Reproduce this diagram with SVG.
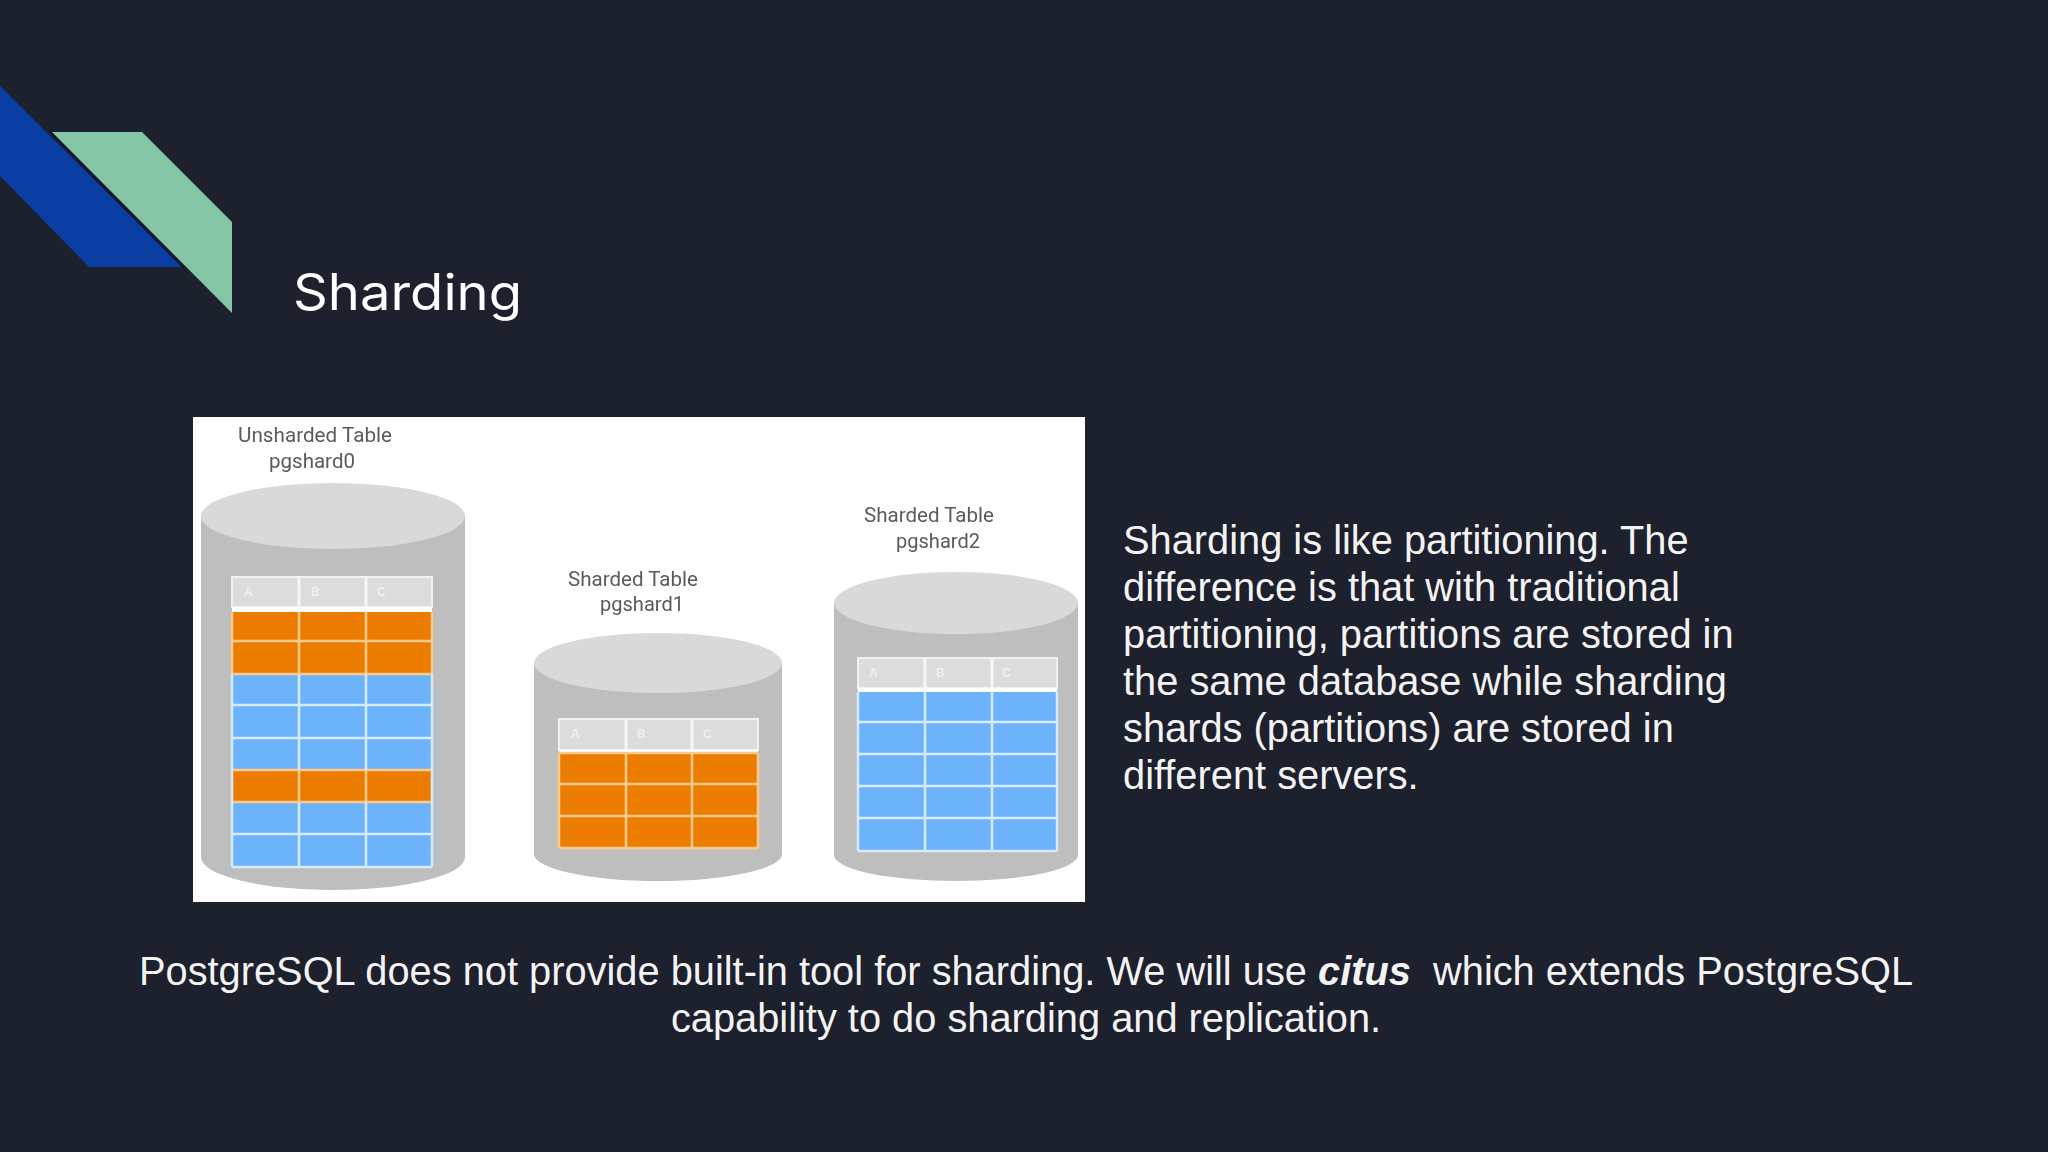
<svg xmlns="http://www.w3.org/2000/svg" width="2048" height="1152" viewBox="0 0 2048 1152">
<style>
.body{fill:#bebebf}.top{fill:#d9d9da}
.hdr{fill:#dcdcdc;stroke:#f1f1f1;stroke-width:2}
.o{fill:#ec7c05}.b{fill:#6cb3fb}
.lo{stroke:#fbc98c;stroke-width:2.5;fill:none}.lb{stroke:#d4ecfd;stroke-width:2.5;fill:none}
.hl{stroke:#f6f6f6;stroke-width:3;fill:none}
.w{fill:#fff}
.lab{font-family:"Roboto","Liberation Sans",sans-serif;font-size:21px;fill:#595a5c}
.hd{font-family:"Liberation Sans",Arial,sans-serif;font-size:12px;font-weight:700;fill:#f0f0f0}
.t{font-family:"Liberation Sans",Arial,sans-serif;font-size:39.8px;fill:#f3f3f3}
.title{font-family:"Inter","Open Sans",sans-serif;font-size:50px;fill:#fff}
</style>
<defs><filter id="soft" x="-2%" y="-2%" width="104%" height="104%"><feGaussianBlur stdDeviation="0.6"/></filter></defs>
<rect width="2048" height="1152" fill="#1d202d"/>
<g id="decor">
<polygon points="0,86 182,267 89,267 0,176" fill="#0a3ea2"/>
<path d="M50,132 L184,268" stroke="#10193a" stroke-width="2" fill="none"/>
<polygon points="52,132 142,132 232,222 232,313" fill="#83c5a5"/>
</g>
<text id="title" class="title" x="293" y="310" textLength="229" lengthAdjust="spacingAndGlyphs">Sharding</text>
<g id="picture">
<rect class="w" x="193" y="417" width="892" height="485"/>
</g>
<g id="pgshard0" filter="url(#soft)">
<text class="lab" x="238" y="442" textLength="154" lengthAdjust="spacingAndGlyphs">Unsharded Table</text>
<text class="lab" x="269" y="468" textLength="86" lengthAdjust="spacingAndGlyphs">pgshard0</text>
<path class="body" d="M201,516 V857 A132,33 0 0 0 465,857 V516 Z"/>
<ellipse class="top" cx="333" cy="516" rx="132" ry="33"/>
<rect class="hdr" x="232" y="577" width="200" height="30"/>
<rect class="w" x="232" y="607" width="200" height="5"/>
<rect class="o" x="233" y="612" width="198" height="62"/>
<rect class="b" x="233" y="674" width="198" height="96"/>
<rect class="o" x="233" y="770" width="198" height="32"/>
<rect class="b" x="233" y="802" width="198" height="64"/>
<path class="lo" d="M233,641 H431"/>
<path class="lb" d="M233,705 H431 M233,738 H431 M233,834 H431 M232,867 H432 M232,674 V867 M432,674 V867"/>
<path class="lo" d="M233,674 H431 M233,770 H431 M233,802 H431 M232,612 V674 M432,612 V674"/>
<path class="hl" d="M299,577 V607 M366,577 V607"/>
<path class="lo" d="M299,612 V674 M366,612 V674 M299,770 V802 M366,770 V802"/>
<path class="lb" d="M299,674 V770 M366,674 V770 M299,802 V866 M366,802 V866"/>
<text class="hd" x="244" y="596">A</text><text class="hd" x="311" y="596">B</text><text class="hd" x="377" y="596">C</text>
</g>
<g id="pgshard1" filter="url(#soft)">
<text class="lab" x="568" y="586" textLength="130" lengthAdjust="spacingAndGlyphs">Sharded Table</text>
<text class="lab" x="600" y="611" textLength="84" lengthAdjust="spacingAndGlyphs">pgshard1</text>
<path class="body" d="M534,663 V854 A124,27 0 0 0 782,854 V663 Z"/>
<ellipse class="top" cx="658" cy="663" rx="124" ry="30"/>
<rect class="hdr" x="559" y="719" width="199" height="31"/>
<rect class="w" x="559" y="750" width="199" height="4"/>
<rect class="o" x="560" y="754" width="197" height="94"/>
<path class="lo" d="M560,784 H757 M560,816 H757 M559,848 H758 M559,753 H758 M626,754 V848 M692,754 V848 M559,754 V848 M758,754 V848"/>
<path class="hl" d="M626,719 V750 M692,719 V750"/>
<text class="hd" x="571" y="738">A</text><text class="hd" x="637" y="738">B</text><text class="hd" x="703" y="738">C</text>
</g>
<g id="pgshard2" filter="url(#soft)">
<text class="lab" x="864" y="522" textLength="130" lengthAdjust="spacingAndGlyphs">Sharded Table</text>
<text class="lab" x="896" y="548" textLength="84" lengthAdjust="spacingAndGlyphs">pgshard2</text>
<path class="body" d="M834,603 V855 A122,26 0 0 0 1078,855 V603 Z"/>
<ellipse class="top" cx="956" cy="603" rx="122" ry="31"/>
<rect class="hdr" x="858" y="658" width="199" height="30"/>
<rect class="w" x="858" y="688" width="199" height="4"/>
<rect class="b" x="859" y="692" width="197" height="159"/>
<path class="lb" d="M859,722 H1056 M859,754 H1056 M859,786 H1056 M859,818 H1056 M858,851 H1057 M925,692 V851 M992,692 V851 M858,692 V851 M1057,692 V851"/>
<path class="hl" d="M925,658 V688 M992,658 V688"/>
<text class="hd" x="869" y="677">A</text><text class="hd" x="936" y="677">B</text><text class="hd" x="1002" y="677">C</text>
</g>
<g id="side-text" class="t">
<text x="1123" y="554">Sharding is like partitioning. The</text>
<text x="1123" y="601">difference is that with traditional</text>
<text x="1123" y="648">partitioning, partitions are stored in</text>
<text x="1123" y="695">the same database while sharding</text>
<text x="1123" y="742">shards (partitions) are stored in</text>
<text x="1123" y="789">different servers.</text>
</g>
<g id="bottom-text" class="t">
<text x="1026" y="985" text-anchor="middle" xml:space="preserve">PostgreSQL does not provide built-in tool for sharding. We will use <tspan font-weight="700" font-style="italic">citus</tspan>  which extends PostgreSQL</text>
<text x="1026" y="1032" text-anchor="middle">capability to do sharding and replication.</text>
</g>
</svg>
